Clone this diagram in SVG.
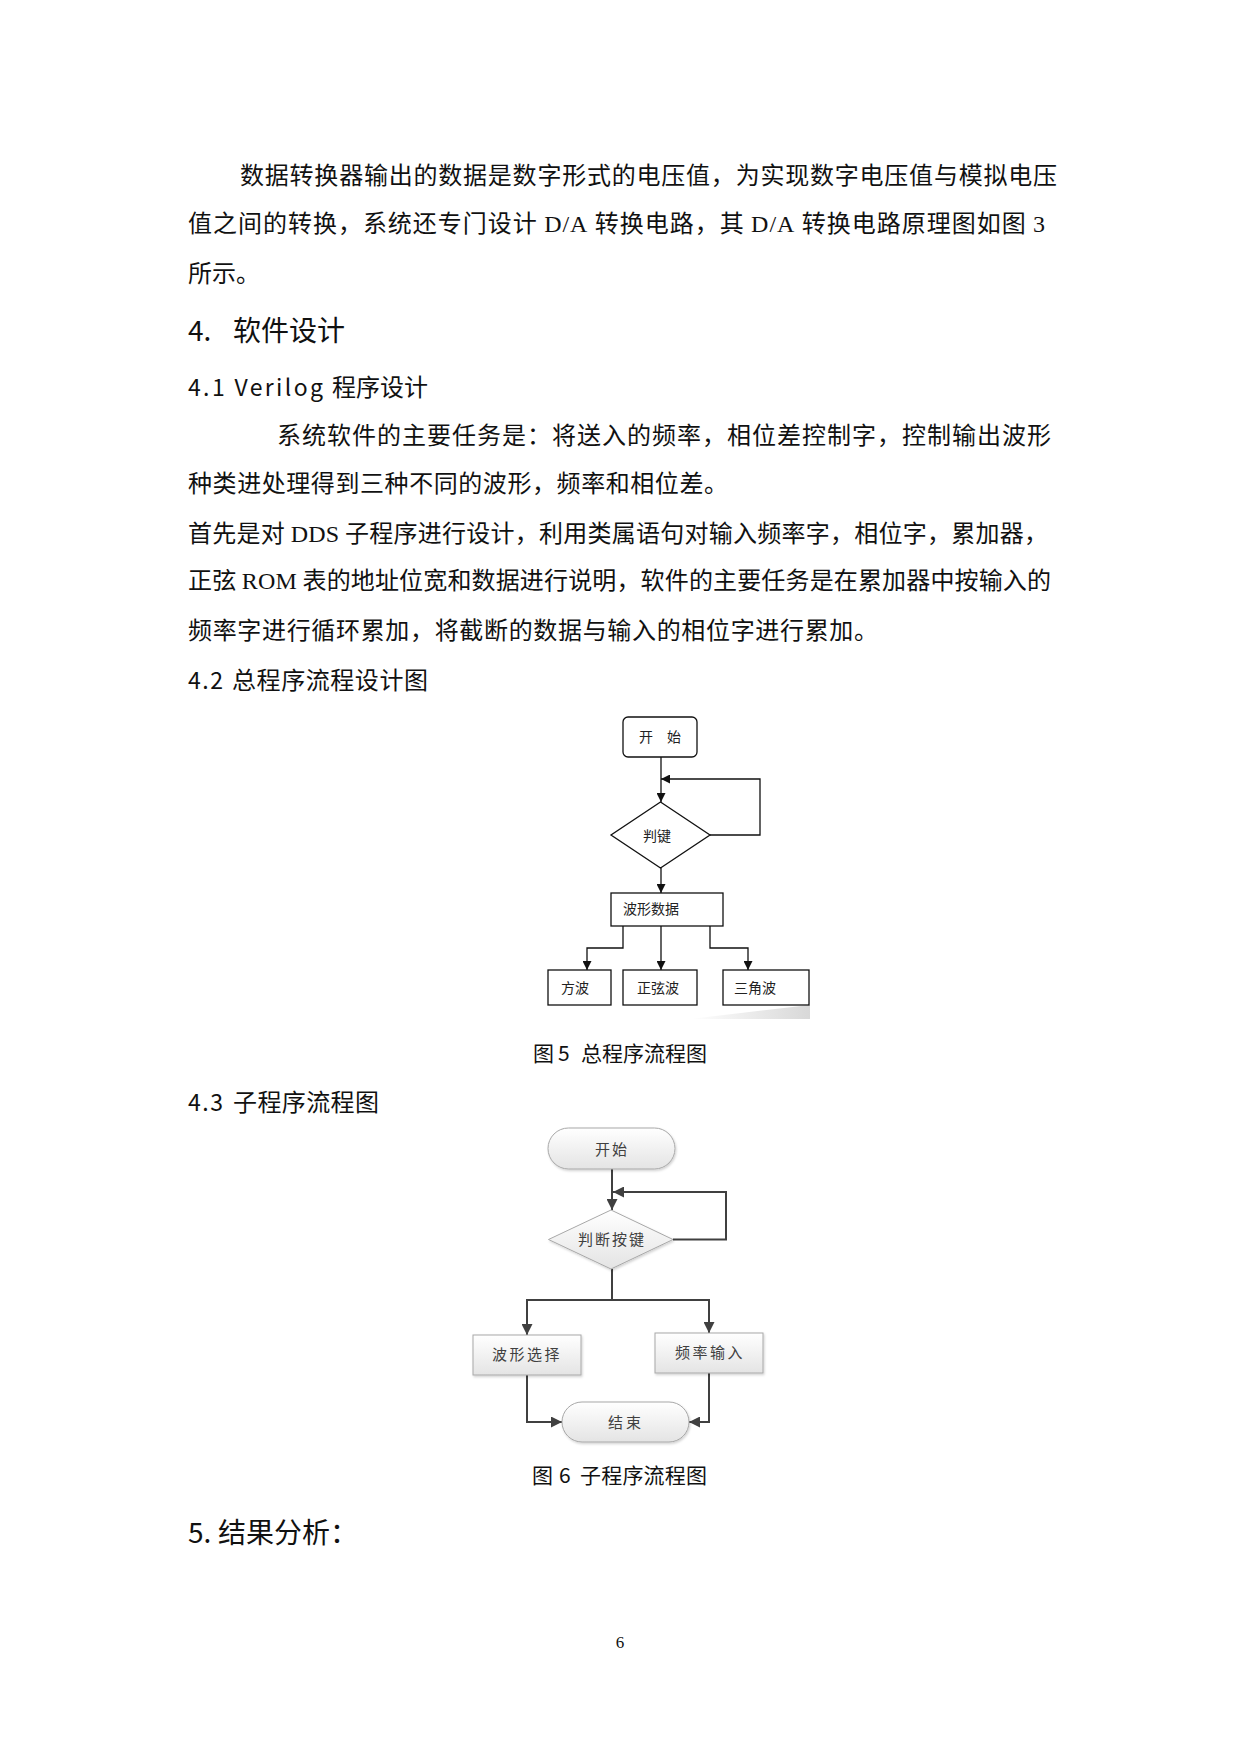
<svg xmlns="http://www.w3.org/2000/svg" width="1241" height="1754" viewBox="0 0 1241 1754">
<style>
.body{font-family:"Noto Sans CJK SC","Liberation Sans",sans-serif;font-size:24px;fill:#111}
.lat{font-family:"Liberation Serif","Noto Sans CJK SC",serif}
.h1{font-family:"Noto Sans CJK SC","Liberation Sans",sans-serif;font-size:28px;fill:#111}
.h2{font-family:"Noto Sans CJK SC","Liberation Sans",sans-serif;font-size:23px;fill:#111}
.cap{font-family:"Noto Sans CJK SC","Liberation Sans",sans-serif;font-size:21px;fill:#111}
.f1 rect,.f1 polygon{fill:#fff;stroke:#111;stroke-width:1.3}
.t1{font-family:"Noto Sans CJK SC","Liberation Sans",sans-serif;font-size:14px;fill:#222}
.c1{fill:none;stroke:#111;stroke-width:1.3}
.f2 rect,.f2 polygon{fill:url(#g2);stroke:#a8a8a8;stroke-width:1;filter:url(#sh)}
.t2{font-family:"Noto Sans CJK SC","Liberation Sans",sans-serif;font-size:15px;fill:#404040;text-anchor:middle}
.c2{fill:none;stroke:#404040;stroke-width:2}
</style>
<defs>
<marker id="a1" markerUnits="userSpaceOnUse" markerWidth="9" markerHeight="9" refX="9" refY="4.5" orient="auto"><path d="M0,0 L9,4.5 L0,9 z" fill="#111"/></marker>
<marker id="a2" markerUnits="userSpaceOnUse" markerWidth="11" markerHeight="11" refX="11" refY="5.5" orient="auto"><path d="M0,0 L11,5.5 L0,11 z" fill="#404040"/></marker>
<linearGradient id="g2" x1="0" y1="0" x2="0" y2="1"><stop offset="0" stop-color="#ffffff"/><stop offset="1" stop-color="#e4e4e4"/></linearGradient>
<linearGradient id="gs" x1="0" y1="0" x2="1" y2="0"><stop offset="0" stop-color="#ffffff"/><stop offset="1" stop-color="#d8d8d8"/></linearGradient>
<filter id="sh" x="-10%" y="-10%" width="130%" height="140%"><feDropShadow dx="1" dy="1.5" stdDeviation="1.2" flood-color="#000" flood-opacity="0.18"/></filter>
</defs>
<rect x="0" y="0" width="1241" height="1754" fill="#fff"/>

<g id="text">
<text class="body" x="240" y="184" textLength="817" lengthAdjust="spacing">数据转换器输出的数据是数字形式的电压值，为实现数字电压值与模拟电压</text>
<text class="body" x="188" y="232" textLength="857" lengthAdjust="spacing">值之间的转换，系统还专门设计 <tspan class="lat">D/A</tspan> 转换电路，其 <tspan class="lat">D/A</tspan> 转换电路原理图如图 <tspan class="lat">3</tspan></text>
<text class="body" x="188" y="282">所示。</text>
<text class="h1" x="188" y="341">4.</text>
<text class="h1" x="233" y="341">软件设计</text>
<text class="h2" x="188" y="396" textLength="135" lengthAdjust="spacing">4.1 Verilog</text>
<text class="body" x="332" y="396">程序设计</text>
<text class="body" x="277" y="444" textLength="774" lengthAdjust="spacing">系统软件的主要任务是：将送入的频率，相位差控制字，控制输出波形</text>
<text class="body" x="188" y="492" textLength="540" lengthAdjust="spacing">种类进处理得到三种不同的波形，频率和相位差。</text>
<text class="body" x="188" y="542" textLength="860" lengthAdjust="spacing">首先是对 <tspan class="lat">DDS</tspan> 子程序进行设计，利用类属语句对输入频率字，相位字，累加器，</text>
<text class="body" x="188" y="589" textLength="863" lengthAdjust="spacing">正弦 <tspan class="lat">ROM</tspan> 表的地址位宽和数据进行说明，软件的主要任务是在累加器中按输入的</text>
<text class="body" x="188" y="639" textLength="690" lengthAdjust="spacing">频率字进行循环累加，将截断的数据与输入的相位字进行累加。</text>
<text class="h2" x="188" y="689" textLength="35" lengthAdjust="spacing">4.2</text>
<text class="body" x="232" y="689" textLength="196" lengthAdjust="spacing">总程序流程设计图</text>
<text class="cap" x="533" y="1061">图</text>
<text class="cap" x="558" y="1061">5</text>
<text class="cap" x="581" y="1061" textLength="126" lengthAdjust="spacing">总程序流程图</text>
<text class="h2" x="188" y="1111" textLength="35" lengthAdjust="spacing">4.3</text>
<text class="body" x="233" y="1111" textLength="146" lengthAdjust="spacing">子程序流程图</text>
<text class="cap" x="532" y="1483">图</text>
<text class="cap" x="559" y="1483">6</text>
<text class="cap" x="580" y="1483" textLength="127" lengthAdjust="spacing">子程序流程图</text>
<text class="h1" x="188" y="1543" font-size="29">5.</text>
<text class="h1" x="218" y="1543" font-size="29">结果分析：</text>
<text x="620" y="1648" font-family="Liberation Serif, serif" font-size="17" text-anchor="middle" fill="#111">6</text>
</g>

<g id="fig5-connectors">
<line class="c1" x1="661" y1="757" x2="661" y2="802" marker-end="url(#a1)"/>
<polyline class="c1" points="710,835 760,835 760,779 661,779" marker-end="url(#a1)"/>
<line class="c1" x1="661" y1="868" x2="661" y2="893" marker-end="url(#a1)"/>
<polyline class="c1" points="623,926 623,948 587,948 587,970" marker-end="url(#a1)"/>
<line class="c1" x1="661" y1="926" x2="661" y2="970" marker-end="url(#a1)"/>
<polyline class="c1" points="710,926 710,948 748,948 748,970" marker-end="url(#a1)"/>
</g>
<polygon points="690,1019 810,1005 810,1019" fill="url(#gs)"/>
<g id="f5-start" class="f1"><rect x="623" y="717" width="74" height="40" rx="5"/><text class="t1" x="660" y="742" text-anchor="middle">开　始</text></g>
<g id="f5-judge" class="f1"><polygon points="660.5,802 710,835 660.5,868 611,835"/><text class="t1" x="657" y="841" text-anchor="middle">判键</text></g>
<g id="f5-data" class="f1"><rect x="611" y="893" width="112" height="33"/><text class="t1" x="623" y="914">波形数据</text></g>
<g id="f5-square" class="f1"><rect x="548" y="970" width="63" height="35"/><text class="t1" x="561" y="993">方波</text></g>
<g id="f5-sine" class="f1"><rect x="623" y="970" width="74" height="35"/><text class="t1" x="637" y="993">正弦波</text></g>
<g id="f5-tri" class="f1"><rect x="723" y="970" width="86" height="35"/><text class="t1" x="734" y="993">三角波</text></g>

<g id="fig6-connectors">
<line class="c2" x1="612" y1="1169" x2="612" y2="1210" marker-end="url(#a2)"/>
<polyline class="c2" points="673,1239.5 726,1239.5 726,1192 613,1192" marker-end="url(#a2)"/>
<polyline class="c2" points="612,1269 612,1300"/>
<polyline class="c2" points="612,1300 527,1300 527,1335" marker-end="url(#a2)"/>
<polyline class="c2" points="612,1300 709,1300 709,1333" marker-end="url(#a2)"/>
<polyline class="c2" points="527,1375 527,1422 562,1422" marker-end="url(#a2)"/>
<polyline class="c2" points="709,1373 709,1422 689,1422" marker-end="url(#a2)"/>
</g>
<g id="f6-start" class="f2"><rect x="548" y="1128" width="127" height="41" rx="20.5"/><text class="t2" x="612" y="1155" font-size="17" letter-spacing="2">开始</text></g>
<g id="f6-judge" class="f2"><polygon points="611,1210 673,1239.5 611,1269 548.5,1239.5"/><text class="t2" x="612" y="1245" font-size="14" letter-spacing="2">判断按键</text></g>
<g id="f6-wave" class="f2"><rect x="473" y="1335" width="108" height="40"/><text class="t2" x="527" y="1360" letter-spacing="2.5">波形选择</text></g>
<g id="f6-freq" class="f2"><rect x="655" y="1333" width="108" height="40"/><text class="t2" x="710" y="1358" letter-spacing="2.5">频率输入</text></g>
<g id="f6-end" class="f2"><rect x="562" y="1402" width="127" height="40" rx="20"/><text class="t2" x="626" y="1428" font-size="18" letter-spacing="3">结束</text></g>
</svg>
